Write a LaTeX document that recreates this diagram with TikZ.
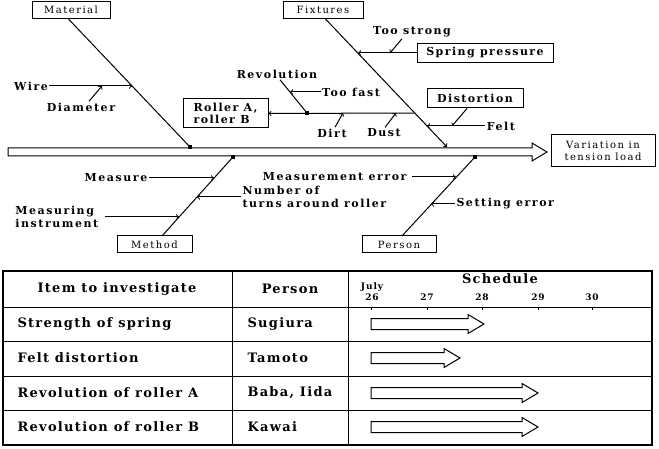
\documentclass[tikz,border=0pt]{standalone}
\usepackage{fontspec}
\setmainfont{DejaVu Serif}[LetterSpace=10]
\begin{document}
\begin{tikzpicture}[x=1pt,y=-1pt,line width=1pt,
    boxnode/.style={draw,line width=1pt,inner sep=2pt,font=\fontsize{10}{11.5}\selectfont\addfontfeature{LetterSpace=15}},
    boxbold/.style={draw,line width=1pt,inner sep=2pt,font=\fontsize{11}{12.5}\selectfont\bfseries\addfontfeature{LetterSpace=13}},
    causetxt/.style={inner sep=1pt,font=\fontsize{11}{12.5}\selectfont\bfseries\addfontfeature{LetterSpace=14}},
    cell/.style={inner sep=0pt,font=\fontsize{13}{15}\selectfont\bfseries\addfontfeature{LetterSpace=10}},
    datetxt/.style={inner sep=0pt,font=\fontsize{9}{9}\selectfont\bfseries}]
    \useasboundingbox (0,0) rectangle (659,449);
    % Spina
    \draw (8,148) -- (532,148) -- (532,143) -- (547,152) -- (532,161) -- (532,156) -- (8,156) -- cycle;
    \node [boxnode, minimum width=104, minimum height=32, align=center] (effect) at (603,151) {Variation in\\tension load};
    % Material
    \node [boxnode, minimum width=78, minimum height=17] (mat) at (71,10) {Material};
    \coordinate (matTop) at (68,18.5);
    \coordinate (matEnd) at (190,147);
    \draw (matTop) -- (matEnd);
    \fill (matEnd) ++(-1.8,-1.8) rectangle ++(3.6,3.6);
    \node [causetxt] (wire) at (31,86) {Wire};
    \coordinate (wireEnd) at (132,86);
    \draw [->] (wire.east) -- (wireEnd);
    \node [causetxt] (diam) at (81,107) {Diameter};
    \coordinate (diamEnd) at (102,86);
    \draw [->] ([xshift=8pt]diam.north) -- (diamEnd);
    % Fixtures
    \node [boxnode, minimum width=80, minimum height=17] (fix) at (323,10) {Fixtures};
    \coordinate (fixTop) at (325,18.5);
    \coordinate (fixEnd) at (447,147);
    \draw [->] (fixTop) -- (fixEnd);
    \node [boxbold, minimum width=136, minimum height=19] (spring) at (485,53) {Spring pressure};
    \coordinate (springEnd) at (358,53);
    \draw [->] (spring.west) -- (springEnd);
    \node [causetxt] (tstrong) at (412,32) {Too strong};
    \coordinate (tstrongEnd) at (390,53);
    \draw [->] ([xshift=-10pt]tstrong.south) -- (tstrongEnd);
    \node [boxbold, minimum width=85, minimum height=29, align=left] (roller) at (225.5,113.5) {Roller A,\\roller B};
    \coordinate (rollEnd) at (415,113);
    \draw [->] (rollEnd) -- (roller.east);
    \node [causetxt] (rev) at (277,74) {Revolution};
    \coordinate (revEnd) at (307,113);
    \draw ([xshift=3pt]rev.south) -- (revEnd);
    \fill (revEnd) ++(-1.8,-1.8) rectangle ++(3.6,3.6);
    \node [causetxt] (tfast) at (351,92) {Too fast};
    \coordinate (tfastEnd) at (290,92);
    \draw [->] (tfast.west) -- (tfastEnd);
    \node [causetxt] (dirt) at (332,133) {Dirt};
    \coordinate (dirtEnd) at (343,113);
    \draw [->] ([xshift=3pt]dirt.north) -- (dirtEnd);
    \node [causetxt] (dust) at (384,133) {Dust};
    \coordinate (dustEnd) at (396,113);
    \draw [->] ([xshift=1pt]dust.north) -- (dustEnd);
    \node [boxbold, minimum width=96, minimum height=19] (dist) at (475,98.5) {Distortion};
    \coordinate (distEnd) at (452,126);
    \draw [->] ([xshift=-8pt]dist.south) -- (distEnd);
    \node [causetxt] (felt) at (501,126) {Felt};
    \coordinate (feltEnd) at (427,126);
    \draw [->] (felt.west) -- (feltEnd);
    % Method
    \node [boxnode, minimum width=75, minimum height=17] (meth) at (154.5,244.5) {Method};
    \coordinate (methTop) at (162,236);
    \coordinate (methEnd) at (233,157);
    \draw (methTop) -- (methEnd);
    \fill (methEnd) ++(-1.8,-1.8) rectangle ++(3.6,3.6);
    \node [causetxt] (meas) at (116,178) {Measure};
    \coordinate (measEnd) at (214,178);
    \draw [->] (meas.east) -- (measEnd);
    \node [causetxt, align=left, anchor=west] (turns) at (241,197) {Number of\\turns around roller};
    \coordinate (turnsEnd) at (197,197);
    \draw [->] (turns.west) -- (turnsEnd);
    \node [causetxt, align=left, anchor=west] (instr) at (14,217) {Measuring\\instrument};
    \coordinate (instrEnd) at (179,217);
    \draw [->] ([xshift=5pt]instr.east) -- (instrEnd);
    % Person
    \node [boxnode, minimum width=74, minimum height=17] (pers) at (399,244.5) {Person};
    \coordinate (persTop) at (402,236);
    \coordinate (persEnd) at (475,157);
    \draw (persTop) -- (persEnd);
    \fill (persEnd) ++(-1.8,-1.8) rectangle ++(3.6,3.6);
    \node [causetxt, anchor=east] (merr) at (408,177) {Measurement error};
    \coordinate (merrEnd) at (456,177);
    \draw [->] ([xshift=4pt]merr.east) -- (merrEnd);
    \node [causetxt, anchor=west] (serr) at (455,204) {Setting error};
    \coordinate (serrEnd) at (431,204);
    \draw [->] (serr.west) -- (serrEnd);
    % Tabella
    \draw [line width=1.5pt] (3,271) rectangle (652,445);
    \draw (3,307) -- (652,307);
    \draw (3,341) -- (652,341);
    \draw (3,376) -- (652,376);
    \draw (3,410) -- (652,410);
    \draw (232,271) -- (232,445);
    \draw (348,271) -- (348,445);
    \node [cell] (hItem) at (117,289) {Item to investigate};
    \node [cell] (hPers) at (290,289) {Person};
    \node [cell] (hSched) at (500,279) {Schedule};
    \node [datetxt] (july) at (372,287) {July};
    \node [datetxt] (d26) at (372,297) {26};
    \node [datetxt] (d27) at (427,297) {27};
    \node [datetxt] (d28) at (482,297) {28};
    \node [datetxt] (d29) at (538,297) {29};
    \node [datetxt] (d30) at (592,297) {30};
    \draw (371,307) -- (371,310);
    \draw (427,307) -- (427,310);
    \draw (482,307) -- (482,310);
    \draw (538,307) -- (538,310);
    \draw (592,307) -- (592,310);
    \node [cell, anchor=west] (r1) at (17,324) {Strength of spring};
    \node [cell, anchor=west] (p1) at (247,324) {Sugiura};
    \node [cell, anchor=west] (r2) at (17,358) {Felt distortion};
    \node [cell, anchor=west] (p2) at (247,358) {Tamoto};
    \node [cell, anchor=west] (r3) at (17,393) {Revolution of roller A};
    \node [cell, anchor=west] (p3) at (247,393) {Baba, Iida};
    \node [cell, anchor=west] (r4) at (17,427) {Revolution of roller B};
    \node [cell, anchor=west] (p4) at (247,427) {Kawai};
    % Frecce
    \draw (371,318.5) -- (468,318.5) -- (468,314.5) -- (484,324) -- (468,333.5) -- (468,329.5) -- (371,329.5) -- cycle;
    \draw (371,352.5) -- (444,352.5) -- (444,348.5) -- (460,358) -- (444,367.5) -- (444,363.5) -- (371,363.5) -- cycle;
    \draw (371,387.5) -- (522,387.5) -- (522,383.5) -- (538,393) -- (522,402.5) -- (522,398.5) -- (371,398.5) -- cycle;
    \draw (371,421.5) -- (522,421.5) -- (522,417.5) -- (538,427) -- (522,436.5) -- (522,432.5) -- (371,432.5) -- cycle;
\end{tikzpicture}
\end{document}
